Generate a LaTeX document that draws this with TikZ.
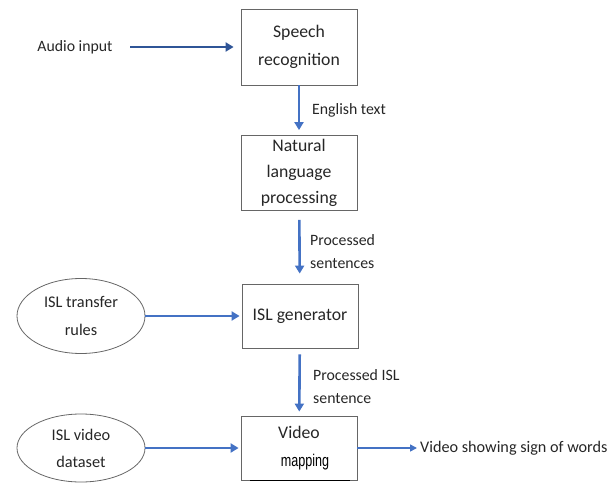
\documentclass[tikz,border=0pt]{standalone}
\usepackage{fontspec}
\setmainfont{Carlito}
\newfontfamily\narrowfont{Liberation Sans}
\usetikzlibrary{positioning, shapes.geometric, arrows.meta}
\definecolor{arrowblue}{HTML}{4472C4}
\definecolor{navyblue}{HTML}{2F5597}

\begin{document}
\begin{tikzpicture}[x=1pt, y=-1pt,
    every node/.style={font=\fontsize{15.8}{27}\selectfont, text=black!85},
    block/.style={draw=black!60, line width=0.8pt, minimum width=116pt, align=center, inner sep=2pt,
        font=\fontsize{17.7}{27}\selectfont},
    oval/.style={ellipse, draw=black!60, line width=0.8pt, minimum width=128pt, align=center, inner sep=0pt,
        font=\fontsize{16.3}{27}\selectfont},
    lbl/.style={anchor=west, align=left, inner sep=0pt, font=\fontsize{15.8}{23}\selectfont},
    flow/.style={draw=arrowblue, line width=2.6pt, -{Triangle[length=8pt, width=9pt]}},
    thinflow/.style={draw=arrowblue, line width=1.6pt, -{Triangle[length=7pt, width=7pt]}}]
    \useasboundingbox (0,0) rectangle (615,489);
    % main column
    \node[block, minimum height=76pt] (speech) at (299,47) {Speech\\[1pt]recognition};
    \node[block, minimum height=75pt] (nlp) at (299,173) {Natural\\[-1pt]language\\[-1pt]processing};
    \node[block, minimum height=64pt] (islgen) at (300,316) {ISL generator};
    \node[block, minimum height=64pt] (video) at (299,448)
        {Video\\[1pt]\hspace*{12pt}{\narrowfont\color{black}\fontsize{17}{17}\selectfont\scalebox{0.74}[1]{mapping}}};
    % inputs and output
    \node (audio) at (75,47) {Audio input};
    \node[oval, minimum height=75pt] (rules) at (81,316) {ISL transfer\\[1pt]rules};
    \node[oval, minimum height=68pt] (dataset) at (81,448) {ISL video\\[0pt]dataset};
    \node[anchor=west, inner sep=0pt, font=\fontsize{16.2}{20}\selectfont] (result) at (420,448) {Video showing sign of words};
    % edge labels
    \node[lbl] (english) at (312,110) {English text};
    \node[lbl] (procsent) at (310,252) {Processed\\sentences};
    \node[lbl] (procisl) at (313,387) {Processed ISL\\sentence};
    % arrows
    \draw[flow, draw=navyblue, shorten <=14pt, shorten >=7pt] (audio) -- (speech);
    \draw[flow, shorten >=5pt] (speech) -- (nlp);
    \draw[flow, shorten <=9pt, shorten >=10pt] (nlp) -- (islgen);
    \draw[flow, shorten <=6pt, shorten >=4pt] (islgen) -- (video);
    \draw[flow, shorten >=2pt] (rules) -- (islgen);
    \draw[flow, shorten >=2pt] (dataset) -- (video);
    \draw[thinflow, shorten >=3pt] (video) -- (result);
    % stray rule under mapping
    \draw[line width=1.4pt] ([xshift=-49pt]video.south) -- ([xshift=51pt]video.south);
\end{tikzpicture}
\end{document}
